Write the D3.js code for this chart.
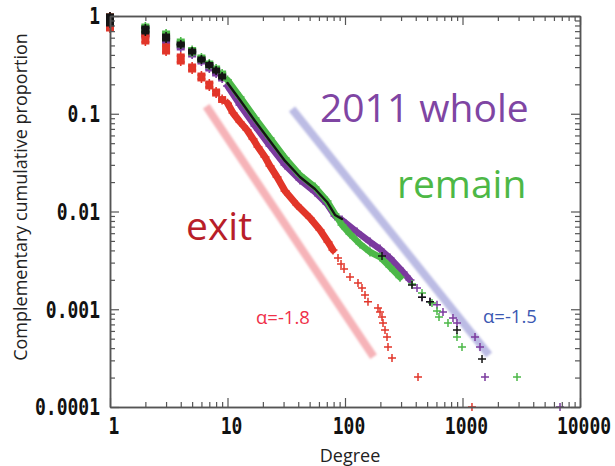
<!DOCTYPE html>
<html>
<head>
<meta charset="utf-8">
<script src="https://cdn.jsdelivr.net/npm/d3@7"></script>
<style>
  body { margin: 0; background: #fff; }
  svg { display: block; }
</style>
</head>
<body>
<svg id="chart" width="615" height="466"></svg>
<script>
// ---- tick values and labels ----
const xTickValues = [1, 10, 100, 1000, 10000];
const xTickLabels = ["1", "10", "100", "1000", "10000"];
const yTickValues = [1, 0.1, 0.01, 0.001, 0.0001];
const yTickLabels = ["1", "0.1", "0.01", "0.001", "0.0001"];

// ---- complementary cumulative proportion by degree ----
// Low degrees: each degree holds many nodes, so its points form a stack [degree, top, bottom].
const wholeStacks = [[1, 1, 0.790], [2, 0.7535, 0.624], [3, 0.5955, 0.542], [4, 0.517, 0.4707], [5, 0.428, 0.399],
  [6, 0.3632, 0.3384], [7, 0.3153, 0.2870], [8, 0.2737, 0.2550], [9, 0.2491, 0.2267]];
const remainStacks = [[1, 1, 0.8284], [2, 0.790, 0.7024], [3, 0.670, 0.5955], [4, 0.5549, 0.505], [5, 0.4543, 0.4182],
  [6, 0.3806, 0.3548], [7, 0.3305, 0.3080], [8, 0.2938, 0.2803], [9, 0.2611, 0.2491]];
const exitStacks = [[1, 1, 0.736], [2, 0.624, 0.542], [3, 0.493, 0.428], [4, 0.390, 0.338], [5, 0.308, 0.280],
  [6, 0.249, 0.227], [7, 0.206, 0.188], [8, 0.171, 0.159], [9, 0.143, 0.1366]];
const otherStacks = [[1, 1, 0.8284], [2, 0.7535, 0.686], [3, 0.624, 0.5816], [4, 0.517, 0.505], [5, 0.4385, 0.428],
  [6, 0.3632, 0.3548], [7, 0.3190, 0.3116], [8, 0.2803, 0.2737], [9, 0.2433, 0.2377]];

// Mid degrees: points packed closely enough to merge into a band.
const wholeCurve = [[10, 0.1922], [12.78, 0.1229], [17.14, 0.0749], [23.0, 0.0468], [30.86, 0.0299], [41.4, 0.0210],
  [55.5, 0.01583], [70.3, 0.01193], [82.2, 0.00900], [94.3, 0.00818], [126.5, 0.00617], [163.3, 0.00488],
  [198.6, 0.00413], [241.5, 0.00334], [311.6, 0.00240], [357.5, 0.00199]];
const remainCurve = [[10, 0.2215], [12.78, 0.1484], [17.14, 0.0905], [23.0, 0.0565], [30.86, 0.0353], [41.4, 0.0236],
  [55.5, 0.01781], [70.3, 0.01281], [82.2, 0.00943], [94.3, 0.00728], [110.3, 0.00589], [134.2, 0.00465],
  [163.3, 0.00385], [198.6, 0.00342], [241.5, 0.00271], [293.8, 0.00212]];
const exitCurve = [[10, 0.128], [11.14, 0.1018], [12.78, 0.0823], [14.66, 0.0682], [16.48, 0.0552], [18.18, 0.0457],
  [20.85, 0.0361], [23.0, 0.0292], [26.4, 0.02254], [30.9, 0.01621], [39.0, 0.01165], [50.4, 0.00858],
  [61.3, 0.00647], [71.7, 0.00488], [79.0, 0.00404]];
const otherCurve = [[10, 0.2064], [12.78, 0.1382], [17.14, 0.0843], [23.0, 0.0526], [30.86, 0.0329], [41.4, 0.02254],
  [55.5, 0.01699], [70.3, 0.01251], [82.2, 0.00921], [94.3, 0.00838]];

// High degrees: individual nodes.
const wholeTail = [[410.1, 0.00165], [452.2, 0.00133], [529.0, 0.00119], [606.7, 0.00111], [682.3, 0.000937],
  [830.0, 0.000814], [897.6, 0.000723], [1278, 0.000520], [1409, 0.000411], [1554, 0.000203], [6759, 0.0001]];
const remainTail = [[371.8, 0.00181], [452.2, 0.00147], [550.1, 0.00116], [606.7, 0.000960], [631.0, 0.000833],
  [752.6, 0.000723], [897.6, 0.000520], [990.2, 0.000411], [2910, 0.000203]];
const exitTail = [[87.2, 0.00334], [92.5, 0.00290], [98.1, 0.00258], [110.3, 0.00214], [129.0, 0.00186],
  [139.5, 0.00165], [148.0, 0.00140], [156.9, 0.00119], [190.9, 0.00103], [198.6, 0.000937], [206.5, 0.000833],
  [210.6, 0.000723], [219.0, 0.000613], [227.8, 0.000520], [232.3, 0.000411], [251.2, 0.000317],
  [418.2, 0.000203], [1204, 0.0001]];
const otherTail = [[206.5, 0.00351], [371.8, 0.00177], [452.2, 0.00133], [529.0, 0.00119], [897.6, 0.000613],
  [1466, 0.000310]];

// Reference power-law slopes: anchor point and degree range
const fitExit = { alpha: -1.8, anchor: [34.0, 0.00624], range: [6.6, 175] };
const fitWhole = { alpha: -1.5, anchor: [244, 0.00617], range: [35.4, 1681] };

// ---- layout ----
const svg = d3.select("#chart");
const plotLeft = 110, plotRight = 580, plotTop = 16, plotBottom = 407;
const x = d3.scaleLog().domain([1, 10000]).range([plotLeft, plotRight]);
const y = d3.scaleLog().domain([0.0001, 1]).range([plotBottom, plotTop]);

const defs = svg.append("defs");
defs.append("filter").attr("id", "soft")
  .append("feGaussianBlur").attr("stdDeviation", 0.8);

// ---- fitted slope guides ----
function fitPoints(f) {
  const [ax, ay] = f.anchor;
  return f.range.map(d => [d, ay * Math.pow(d / ax, f.alpha)]);
}
const fitLine = d3.line().x(d => x(d[0])).y(d => y(d[1]));
svg.append("path").datum(fitPoints(fitExit)).attr("d", fitLine)
  .attr("stroke", "#f6b3b8").attr("stroke-width", 8).attr("fill", "none").attr("filter", "url(#soft)");
svg.append("path").datum(fitPoints(fitWhole)).attr("d", fitLine)
  .attr("stroke", "#bcbce4").attr("stroke-width", 8).attr("fill", "none").attr("filter", "url(#soft)");

// ---- markers ----
const cross = "M-4,0H4M0,-4V4";
function drawSeries(stacks, curve, tail, color, bandWidth) {
  const g = svg.append("g").attr("stroke", color).attr("fill", color);
  // stacks of nodes sharing a low degree: a solid block of overlapping crosses
  g.selectAll("rect.stack").data(stacks).join("rect").attr("class", "stack")
    .attr("x", d => x(d[0]) - 4).attr("width", 8)
    .attr("y", d => y(d[1]) - 2.5).attr("height", d => y(d[2]) - y(d[1]) + 5)
    .attr("stroke", "none");
  const ends = stacks.flatMap(d => [[d[0], d[1]], [d[0], d[2]]]);
  g.selectAll("path.end").data(ends).join("path").attr("class", "end")
    .attr("d", cross).attr("transform", d => `translate(${x(d[0])},${y(d[1])})`)
    .attr("stroke-width", 1.6).attr("fill", "none");
  // dense band
  g.append("path").datum(curve)
    .attr("d", d3.line().x(d => x(d[0])).y(d => y(d[1])))
    .attr("fill", "none").attr("stroke-width", bandWidth)
    .attr("stroke-linejoin", "round").attr("stroke-linecap", "round");
  if (bandWidth > 4) {
    g.selectAll("path.band").data(curve).join("path").attr("class", "band")
      .attr("d", "M-4.5,0H4.5M0,-4.5V4.5")
      .attr("transform", d => `translate(${x(d[0])},${y(d[1])})`)
      .attr("stroke-width", 1.6).attr("fill", "none");
  }
  // sparse tail
  g.selectAll("path.tail").data(tail).join("path").attr("class", "tail")
    .attr("d", cross).attr("transform", d => `translate(${x(d[0])},${y(d[1])})`)
    .attr("stroke-width", 1.5).attr("fill", "none");
}
drawSeries(wholeStacks, wholeCurve, wholeTail, "#7b3a9e", 6.5);
drawSeries(remainStacks, remainCurve, remainTail, "#4cb848", 6.5);
drawSeries(exitStacks, exitCurve, exitTail, "#e2362a", 7);
drawSeries(otherStacks, otherCurve, otherTail, "#141414", 2.4);

// ---- frame and ticks ----
const axisColor = "#555";
const minorX = [], minorY = [];
for (let e = 0; e < 4; e++) for (let m = 2; m <= 9; m++) minorX.push(m * Math.pow(10, e));
for (let e = -4; e < 0; e++) for (let m = 2; m <= 9; m++) minorY.push(m * Math.pow(10, e));

function styleAxis(g) {
  g.selectAll(".domain").attr("stroke", axisColor).attr("stroke-width", 1.5);
  g.selectAll(".tick line").attr("stroke", axisColor).attr("stroke-width", 1.2);
  g.selectAll(".tick text").remove();
}
const axes = [
  [() => d3.axisBottom(x), `translate(0,${plotBottom})`],
  [() => d3.axisTop(x), `translate(0,${plotTop})`],
  [() => d3.axisLeft(y), `translate(${plotLeft},0)`],
  [() => d3.axisRight(y), `translate(${plotRight},0)`]
];
axes.forEach(([make, tr], i) => {
  const isX = i < 2;
  svg.append("g").attr("transform", tr)
    .call(make().tickValues(isX ? minorX : minorY).tickSizeInner(-5).tickSizeOuter(0)).call(styleAxis);
  svg.append("g").attr("transform", tr)
    .call(make().tickValues(isX ? xTickValues : yTickValues).tickSizeInner(-9).tickSizeOuter(0)).call(styleAxis);
});

// ---- tick labels ----
const tickFont = "'DejaVu Sans Mono', monospace";
xTickValues.forEach((v, i) => {
  svg.append("g").attr("transform", `translate(${x(v) + 4},${plotBottom + 27}) scale(1,1.28)`)
    .append("text").text(xTickLabels[i])
    .attr("text-anchor", "middle").attr("font-family", tickFont)
    .attr("font-weight", "bold").attr("font-size", 18).attr("fill", "#111");
});
yTickValues.forEach((v, i) => {
  svg.append("g").attr("transform", `translate(${plotLeft - 10},${y(v)}) scale(1,1.28)`)
    .append("text").text(yTickLabels[i]).attr("dy", "0.36em")
    .attr("text-anchor", "end").attr("font-family", tickFont)
    .attr("font-weight", "bold").attr("font-size", 18).attr("fill", "#111");
});

// ---- axis titles ----
const sans = "'Open Sans', 'Noto Sans', sans-serif";
svg.append("text").text("Degree")
  .attr("x", 350).attr("y", 462).attr("text-anchor", "middle")
  .attr("font-family", sans).attr("font-size", 18).attr("fill", "#222");
svg.append("text").text("Complementary cumulative proportion")
  .attr("transform", "translate(27,197) rotate(-90)").attr("text-anchor", "middle")
  .attr("font-family", sans).attr("font-size", 18).attr("fill", "#222");

// ---- annotations ----
const notes = [
  { t: "2011 whole", x: 320, y: 122, size: 39, color: "#7f45a3" },
  { t: "remain", x: 397, y: 198, size: 39, color: "#4db846" },
  { t: "exit", x: 186, y: 240, size: 39, color: "#b81e2a" },
  { t: "α=-1.8", x: 256, y: 324, size: 18.5, color: "#ef3149" },
  { t: "α=-1.5", x: 483, y: 323, size: 18.5, color: "#3b58b2" }
];
svg.selectAll("text.note").data(notes).join("text").attr("class", "note")
  .text(d => d.t).attr("x", d => d.x).attr("y", d => d.y)
  .attr("font-family", sans).attr("font-size", d => d.size).attr("fill", d => d.color);
</script>
</body>
</html>
